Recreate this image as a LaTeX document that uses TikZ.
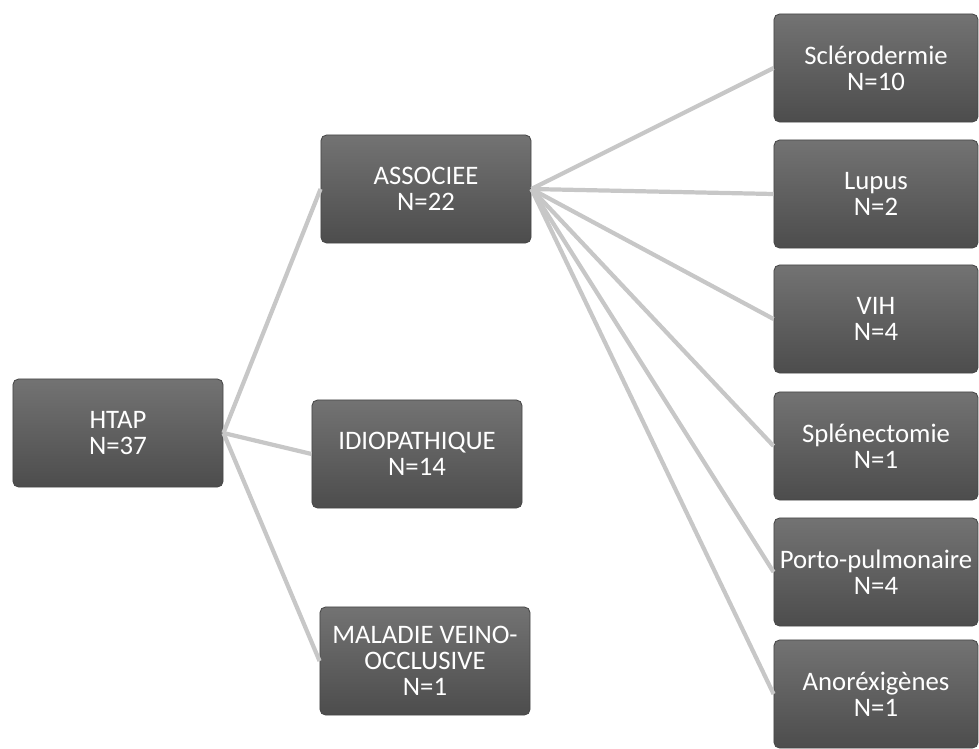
\documentclass[tikz,border=0pt]{standalone}
\usepackage{fontspec}
\setmainfont{Carlito}
\begin{document}
\begin{tikzpicture}[x=0.025cm,y=-0.025cm,
  box/.style={rounded corners=4pt, top color=black!55, bottom color=black!70,
    draw=black!72, line width=0.6pt, text=white, align=center,
    font=\fontsize{19}{18.5}\selectfont, inner sep=1pt, minimum height=2.7cm},
  midbox/.style={box, minimum width=5.25cm},
  leafbox/.style={box, minimum width=5.1cm},
  link/.style={draw=black!22, line width=3pt}]
\useasboundingbox (0,0) rectangle (979,749);

\node[midbox] (htap) at (118,433) {HTAP\\N=37};

\node[midbox] (asso) at (426,189) {ASSOCIEE\\N=22};
\node[midbox] (idio) at (417,454) {IDIOPATHIQUE\\N=14};
\node[midbox] (mvo)  at (425,661) {MALADIE VEINO-\\OCCLUSIVE\\N=1};

\node[leafbox] (scl) at (876,68)  {Sclérodermie\\N=10};
\node[leafbox] (lup) at (876,194) {Lupus\\N=2};
\node[leafbox] (vih) at (876,319) {VIH\\N=4};
\node[leafbox] (spl) at (876,446) {Splénectomie\\N=1};
\node[leafbox] (por) at (876,572) {Porto-pulmonaire\\N=4};
\node[leafbox] (ano) at (876,694) {Anoréxigènes\\N=1};

\foreach \n in {asso,idio,mvo}
  \draw[link] (htap.east) -- (\n.west);
\foreach \n in {scl,lup,vih,spl,por,ano}
  \draw[link] (asso.east) -- (\n.west);

\end{tikzpicture}
\end{document}
